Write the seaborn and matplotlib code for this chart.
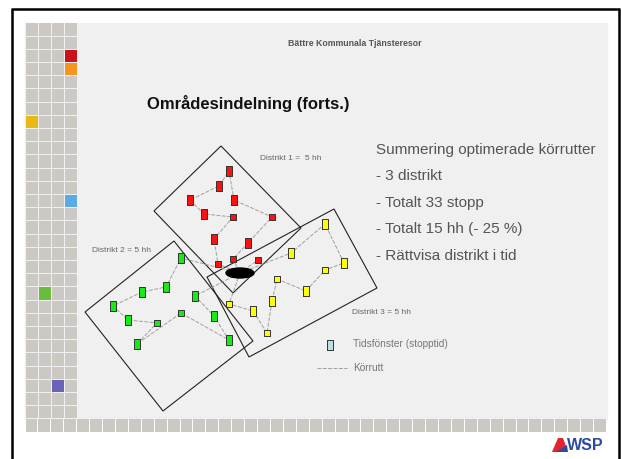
import numpy as np
import pandas as pd
import seaborn as sns
import matplotlib.pyplot as plt
from matplotlib.patches import Rectangle, Polygon, Ellipse

sns.set_theme(style='white')
plt.rcParams['font.family'] = ['Liberation Sans', 'DejaVu Sans']

# stops (pixel positions on the slide), kind = tall time window / short one
red_x = [229, 219, 234, 190, 204, 233, 272, 214, 248, 218, 233, 258]
red_y = [171, 186, 200, 200, 214, 217, 217, 239, 243, 264, 259, 260]
red_kind = ['tall', 'tall', 'tall', 'tall', 'tall', 'small', 'small', 'tall', 'tall', 'small', 'small', 'small']
red_route = ['D', 9, 7, 5, 4, 3, 1, 0, 2, 6, 8, 10, 'D', 11]

green_x = [181, 166, 142, 113, 128, 157, 137, 181, 195, 214, 229]
green_y = [258, 287, 292, 306, 320, 323, 344, 313, 296, 316, 340]
green_kind = ['tall', 'tall', 'tall', 'tall', 'tall', 'small', 'tall', 'small', 'tall', 'tall', 'tall']
green_route = ['D', 0, 1, 2, 3, 4, 5, 6, 7, 10, 9, 8, 'D']

yellow_x = [325, 291, 344, 325, 277, 306, 272, 229, 253, 267]
yellow_y = [224, 253, 263, 270, 279, 291, 301, 304, 311, 333]
yellow_kind = ['tall', 'tall', 'tall', 'small', 'small', 'tall', 'tall', 'small', 'tall', 'small']
yellow_route = ['D', 1, 0, 2, 3, 5, 4, 6, 9, 8, 7, 'D']

depot_x, depot_y = 240, 273

# district boundaries (corner points)
district1_x = [221, 301, 233, 154]
district1_y = [146, 228, 293, 211]
district2_x = [174, 253, 163, 85]
district2_y = [241, 341, 411, 312]
district3_x = [334, 377, 249, 207]
district3_y = [209, 288, 357, 277]

district_labels = ['Distrikt 1 =  5 hh', 'Distrikt 2 = 5 hh', 'Distrikt 3 = 5 hh']

header = 'Bättre Kommunala Tjänsteresor'
title = 'Områdesindelning (forts.)'
summary = ['Summering optimerade körrutter', '- 3 distrikt', '- Totalt 33 stopp',
           '- Totalt 15 hh (- 25 %)', '- Rättvisa distrikt i tid']
legend_labels = ['Tidsfönster (stopptid)', 'Körrutt']

# coloured squares in the left grid: (column, row, colour)
accent_cells = [(3, 2, '#c8141c'), (3, 3, '#f7941d'), (0, 7, '#e8b910'),
                (3, 13, '#5aaae6'), (1, 20, '#68bd3c'), (2, 27, '#6b63b9')]

fig = plt.figure(figsize=(6.21, 4.59), dpi=100)
ax = fig.add_axes([0, 0, 1, 1])
ax.set_xlim(0, 621)
ax.set_ylim(459, 0)
ax.axis('off')

# slide background
ax.add_patch(Rectangle((25, 23), 582, 396, color='#f0f0f0', zorder=0))
cell_color = '#ccc8c4'
for col in range(4):
    for row in range(30):
        ax.add_patch(Rectangle((25.5 + col * 13, 23.4 + row * 13.2), 12, 12.2,
                               color=cell_color, lw=0, zorder=1))
pitch = (607 - 25.5) / 45
for col in range(45):
    ax.add_patch(Rectangle((25.5 + col * pitch, 419.4), pitch - 1, 12.2,
                           color=cell_color, lw=0, zorder=1))
for col, row, c in accent_cells:
    ax.add_patch(Rectangle((25.5 + col * 13, 23.4 + row * 13.2), 12, 12.2,
                           color=c, lw=0, zorder=2))

# black frame
ax.plot([12, 12], [459, 8.5], color='black', lw=1.8, solid_capstyle='butt')
ax.plot([11, 620], [8.5, 8.5], color='black', lw=1.8, solid_capstyle='butt')
ax.plot([619, 619], [8.5, 459], color='black', lw=1.8, solid_capstyle='butt')

# texts
ax.text(355, 43, header, ha='center', va='center', fontsize=6.3, fontweight='bold', color='#555555')
ax.text(147, 104, title, ha='left', va='center', fontsize=12, fontweight='bold', color='#111111')
for i, line in enumerate(summary):
    ax.text(376, 150 + i * 26.5, line, ha='left', va='center', fontsize=11, color='#555555')

ax.text(260, 159, district_labels[0], ha='left', va='center', fontsize=6, color='#666666')
ax.text(92, 250, district_labels[1], ha='left', va='center', fontsize=6, color='#666666')
ax.text(352, 313, district_labels[2], ha='left', va='center', fontsize=6, color='#666666')

# districts
for dx, dy in [(district1_x, district1_y), (district2_x, district2_y), (district3_x, district3_y)]:
    ax.add_patch(Polygon(list(zip(dx, dy)), closed=True, fill=False, ec='#222222', lw=0.8, zorder=3))

# routes
route_style = dict(color='#a0a0a0', lw=0.7, ls=(0, (4, 1.5)), zorder=4)
for xs, ys, route in [(red_x, red_y, red_route), (green_x, green_y, green_route),
                      (yellow_x, yellow_y, yellow_route)]:
    px = [depot_x if r == 'D' else xs[r] for r in route]
    py = [depot_y if r == 'D' else ys[r] for r in route]
    ax.plot(px, py, **route_style)

ax.add_patch(Ellipse((depot_x, depot_y), 28, 10, color='black', zorder=6))

# stops
stops = pd.DataFrame({
    'x': red_x + green_x + yellow_x,
    'y': red_y + green_y + yellow_y,
    'kind': red_kind + green_kind + yellow_kind,
    'district': ['1'] * len(red_x) + ['2'] * len(green_x) + ['3'] * len(yellow_x),
})
palette = {'1': '#ff1010', '2': '#18ea18', '3': '#ffff00'}
tall_marker = [(-0.25, -0.5), (0.25, -0.5), (0.25, 0.5), (-0.25, 0.5), (-0.25, -0.5)]
for kind, marker, size in [('tall', tall_marker, 52), ('small', 's', 13)]:
    sub = stops[stops['kind'] == kind]
    sns.scatterplot(data=sub, x='x', y='y', hue='district', palette=palette, marker=marker,
                    s=size, edgecolor='#333333', linewidth=0.7, legend=False, ax=ax, zorder=7)

# legend
ax.scatter([329.5], [344.5], marker=tall_marker, s=60, color='#b8e0e4', edgecolor='#333333',
           linewidth=0.7, zorder=7)
ax.plot([317, 347], [368, 368], **route_style)
ax.text(353, 344, legend_labels[0], ha='left', va='center', fontsize=7.3, color='#777777')
ax.text(353, 368, legend_labels[1], ha='left', va='center', fontsize=7.3, color='#777777')

# logo
ax.add_patch(Polygon([(552, 452), (558, 438), (563, 438), (566, 446), (561, 452)], color='#e0262c', lw=0))
ax.add_patch(Polygon([(556, 452), (567, 445), (568, 452)], color='#2b4aa0', lw=0))
ax.text(567, 445, 'WSP', ha='left', va='center', fontsize=11.5, fontweight='bold', color='#2b4aa0')

ax.set_xlim(0, 621)
ax.set_ylim(459, 0)
fig.savefig('out.png', dpi=100)
